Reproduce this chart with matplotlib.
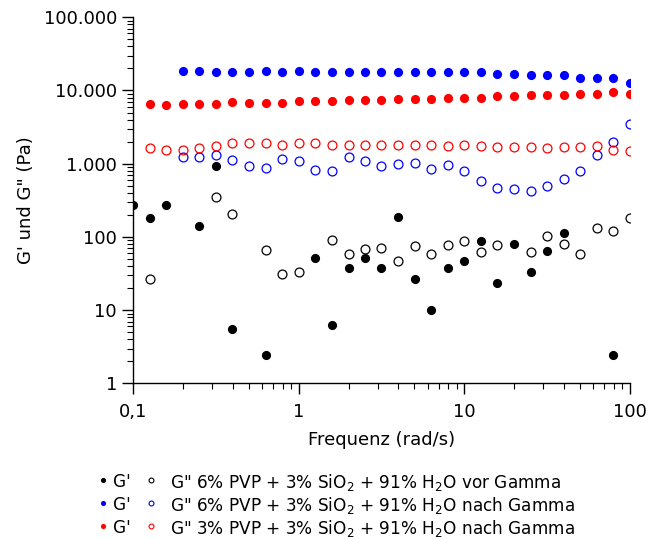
import numpy as np
import matplotlib
matplotlib.use("Agg")
import matplotlib.pyplot as plt
from matplotlib.lines import Line2D
from matplotlib.ticker import FixedLocator, FixedFormatter, LogLocator, NullFormatter

# ---------------------------------------------------------
# Data
# ---------------------------------------------------------

freq = [0.1, 0.126, 0.158, 0.2, 0.251, 0.316, 0.398, 0.501, 0.631, 0.794,
        1.0, 1.26, 1.58, 2.0, 2.51, 3.16, 3.98, 5.01, 6.31, 7.94,
        10.0, 12.6, 15.8, 20.0, 25.1, 31.6, 39.8, 50.1, 63.1, 79.4, 100.0]

nan = np.nan

# 6% PVP vor Gamma
g1_vor_6 = [277, 180, 277, nan, 141, 920, 5.6, nan, 2.43, nan,
            nan, 52, 6.3, 38, 52, 38, 187, 26.5, 10.1, 38,
            46.6, 88, 23.3, 81, 33.7, 64, 112, nan, nan, 2.43, nan]
g2_vor_6 = [nan, 26.5, nan, nan, nan, 356, 204, nan, 66.5, 31,
            33.7, nan, 92, 58.6, 68.6, 71.6, 46.6, 74.6, 58, 77.8,
            88, 62, 77.8, nan, 62, 103, 81, 58.6, 131, 121, 180]

# 6% PVP nach Gamma
g1_nach_6 = [nan, nan, nan, 18400, 18400, 17700, 17700, 17700, 18400, 17700,
             18400, 17700, 17700, 17700, 17700, 17700, 17700, 17700, 17700, 17700,
             17700, 17700, 16950, 16950, 16230, 16230, 16230, 14960, 14960, 14960, 12770]
g2_nach_6 = [nan, nan, nan, 1220, 1220, 1310, 1120, 920, 880, 1170,
             1090, 820, 790, 1220, 1090, 920, 990, 1030, 850, 960,
             790, 590, 470, 450, 430, 490, 620, 790, 1310, 1980, 3480]

# 3% PVP nach Gamma
g1_nach_3 = [nan, 6500, 6300, 6500, 6600, 6500, 6900, 6800, 6800, 6800,
             7200, 7200, 7200, 7500, 7500, 7400, 7600, 7600, 7600, 8000,
             8000, 8000, 8300, 8300, 8700, 8700, 8700, 9000, 9000, 9400, 9000]
g2_nach_3 = [nan, 1620, 1560, 1560, 1620, 1740, 1900, 1900, 1900, 1820,
             1900, 1900, 1820, 1820, 1820, 1820, 1820, 1820, 1820, 1740,
             1820, 1740, 1670, 1670, 1670, 1620, 1670, 1670, 1740, 1560, 1490]

series_labels = [
    'G" 6% PVP + 3% SiO$_2$ + 91% H$_2$O vor Gamma',
    'G" 6% PVP + 3% SiO$_2$ + 91% H$_2$O nach Gamma',
    'G" 3% PVP + 3% SiO$_2$ + 91% H$_2$O nach Gamma',
]
series_colors = ["black", "blue", "red"]

y_ticks = [1, 10, 100, 1000, 10000, 100000]
y_ticklabels = ["1", "10", "100", "1.000", "10.000", "100.000"]
x_ticks = [0.1, 1, 10, 100]
x_ticklabels = ["0,1", "1", "10", "100"]


# ---------------------------------------------------------
# Figure
# ---------------------------------------------------------

plt.rcParams["font.family"] = "DejaVu Sans"
plt.rcParams["font.size"] = 13

W, H = 651, 539
fig = plt.figure(figsize=(W / 100, H / 100), dpi=100)
ax = fig.add_axes([0.2043, 0.2885, 0.7634, 0.6795])

storage = [(g1_vor_6, g2_vor_6), (g1_nach_6, g2_nach_6), (g1_nach_3, g2_nach_3)]

for (g1, g2), color in zip(storage, series_colors):
    ax.plot(freq, g1, "o", color=color, markersize=6.6,
            markeredgewidth=0, linestyle="none")
    ax.plot(freq, g2, "o", markerfacecolor="none", markeredgecolor=color,
            markersize=6.4, markeredgewidth=0.9, linestyle="none")

ax.set_xscale("log")
ax.set_yscale("log")
ax.set_xlim(0.1, 100)
ax.set_ylim(1, 100000)

ax.yaxis.set_major_locator(FixedLocator(y_ticks))
ax.yaxis.set_major_formatter(FixedFormatter(y_ticklabels))
ax.xaxis.set_major_locator(FixedLocator(x_ticks))
ax.xaxis.set_major_formatter(FixedFormatter(x_ticklabels))
ax.yaxis.set_minor_locator(LogLocator(base=10, subs=np.arange(2, 10)))
ax.xaxis.set_minor_locator(LogLocator(base=10, subs=np.arange(2, 10)))
ax.yaxis.set_minor_formatter(NullFormatter())
ax.xaxis.set_minor_formatter(NullFormatter())

ax.spines["top"].set_visible(False)
ax.spines["right"].set_visible(False)
for side in ["left", "bottom"]:
    ax.spines[side].set_linewidth(1.0)

ax.tick_params(which="major", direction="out", length=8, width=1.0, labelsize=13)
ax.tick_params(axis="x", which="major", pad=6)
ax.tick_params(which="minor", direction="out", length=4, width=0.8)

ax.set_xlabel("Frequenz (rad/s)", fontsize=13, labelpad=7)
ax.set_ylabel('G\' und G" (Pa)', fontsize=13, labelpad=6)


# ---------------------------------------------------------
# Legend rows: filled G' marker, "G'", open G" marker, label
# ---------------------------------------------------------

row_y = [480, 503, 526]

for y_px, color, label in zip(row_y, series_colors, series_labels):
    yf = (H - y_px) / H
    fig.add_artist(Line2D([103 / W], [yf], transform=fig.transFigure,
                          marker="o", markersize=3.7, markeredgewidth=0,
                          color=color, linestyle="none"))
    fig.text(113 / W, yf, "G'", fontsize=12.2, va="center_baseline", ha="left")
    fig.add_artist(Line2D([151 / W], [yf], transform=fig.transFigure,
                          marker="o", markersize=3.5, markeredgewidth=0.8,
                          markerfacecolor="none", markeredgecolor=color,
                          linestyle="none"))
    fig.text(170 / W, yf, label, fontsize=12.2, va="center_baseline", ha="left")

fig.savefig("out.png", dpi=100)
